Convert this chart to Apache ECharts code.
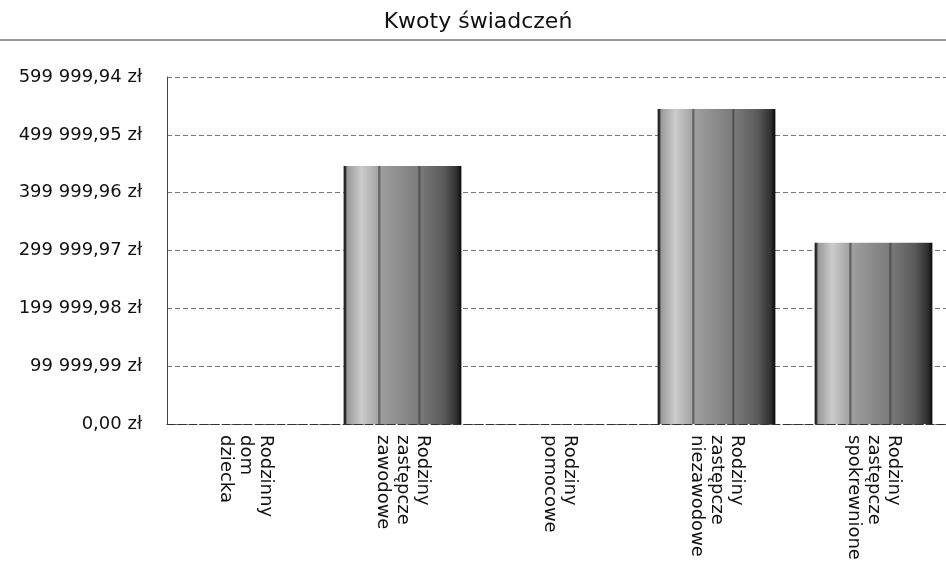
<!DOCTYPE html>
<html>
<head>
<meta charset="utf-8">
<script src="https://cdn.jsdelivr.net/npm/echarts@6/dist/echarts.min.js"></script>
<style>
  html, body { margin: 0; padding: 0; background: #fff; overflow: hidden; }
  #chart { width: 962px; height: 564px; }
</style>
</head>
<body>
<div id="chart"></div>
<script>
// dane
const categories = [
  'Rodzinny\ndom\ndziecka',
  'Rodziny\nzastępcze\nzawodowe',
  'Rodziny\npomocowe',
  'Rodziny\nzastępcze\nniezawodowe',
  'Rodziny\nzastępcze\nspokrewnione'
]
const amounts = [0, 446000, 0, 544700, 313500]
const yMax = 599999.94
const yStep = 99999.99

function fmtZl(v) {
  const parts = Number(v).toFixed(2).split('.')
  return parts[0].replace(/\B(?=(\d{3})+(?!\d))/g, ' ') + ',' + parts[1] + ' zł'
}

const font = 'DejaVu Sans'

// "walcowy" gradient słupka jak w oryginale
const barFill = new echarts.graphic.LinearGradient(0, 0, 1, 0, [
  {offset: 0, color: '#1a1a1a'},
  {offset: 0.015, color: '#2a2a2a'},
  {offset: 0.03, color: '#9a9a9a'},
  {offset: 0.15, color: '#cccccc'},
  {offset: 0.29, color: '#a4a4a4'},
  {offset: 0.30, color: '#505050'},
  {offset: 0.32, color: '#9e9e9e'},
  {offset: 0.5, color: '#8a8a8a'},
  {offset: 0.63, color: '#7c7c7c'},
  {offset: 0.64, color: '#484848'},
  {offset: 0.66, color: '#787878'},
  {offset: 0.85, color: '#5a5a5a'},
  {offset: 0.96, color: '#303030'},
  {offset: 1, color: '#0a0a0a'}
])

const chart = echarts.init(document.getElementById('chart'))
chart.setOption({
  animation: false,
  title: {
    text: 'Kwoty świadczeń',
    left: 473,
    textAlign: 'center',
    top: 6,
    textStyle: {fontFamily: font, fontSize: 22, fontWeight: 'normal', color: '#111'}
  },
  graphic: [{
    type: 'line',
    shape: {x1: 0, y1: 40, x2: 946, y2: 40},
    style: {stroke: '#333', lineWidth: 1}
  }],
  grid: {left: 167, top: 77, right: 10, height: 347},
  xAxis: {
    type: 'category',
    data: categories,
    axisLine: {lineStyle: {color: '#333', type: [8, 3], width: 1}},
    axisTick: {show: false},
    axisLabel: {
      interval: 0,
      rotate: -90,
      margin: 11,
      fontFamily: font,
      fontSize: 18,
      lineHeight: 20,
      color: '#111'
    }
  },
  yAxis: {
    type: 'value',
    min: 0,
    max: yMax,
    interval: yStep,
    axisLine: {show: true, lineStyle: {color: '#444', width: 1}},
    axisTick: {show: false},
    splitLine: {lineStyle: {color: '#777', type: [5, 3], width: 1}},
    axisLabel: {
      margin: 25,
      fontFamily: font,
      fontSize: 18,
      color: '#111',
      formatter: fmtZl
    }
  },
  series: [{
    type: 'bar',
    data: amounts,
    barWidth: '75%',
    itemStyle: {color: barFill}
  }]
})
</script>
</body>
</html>
